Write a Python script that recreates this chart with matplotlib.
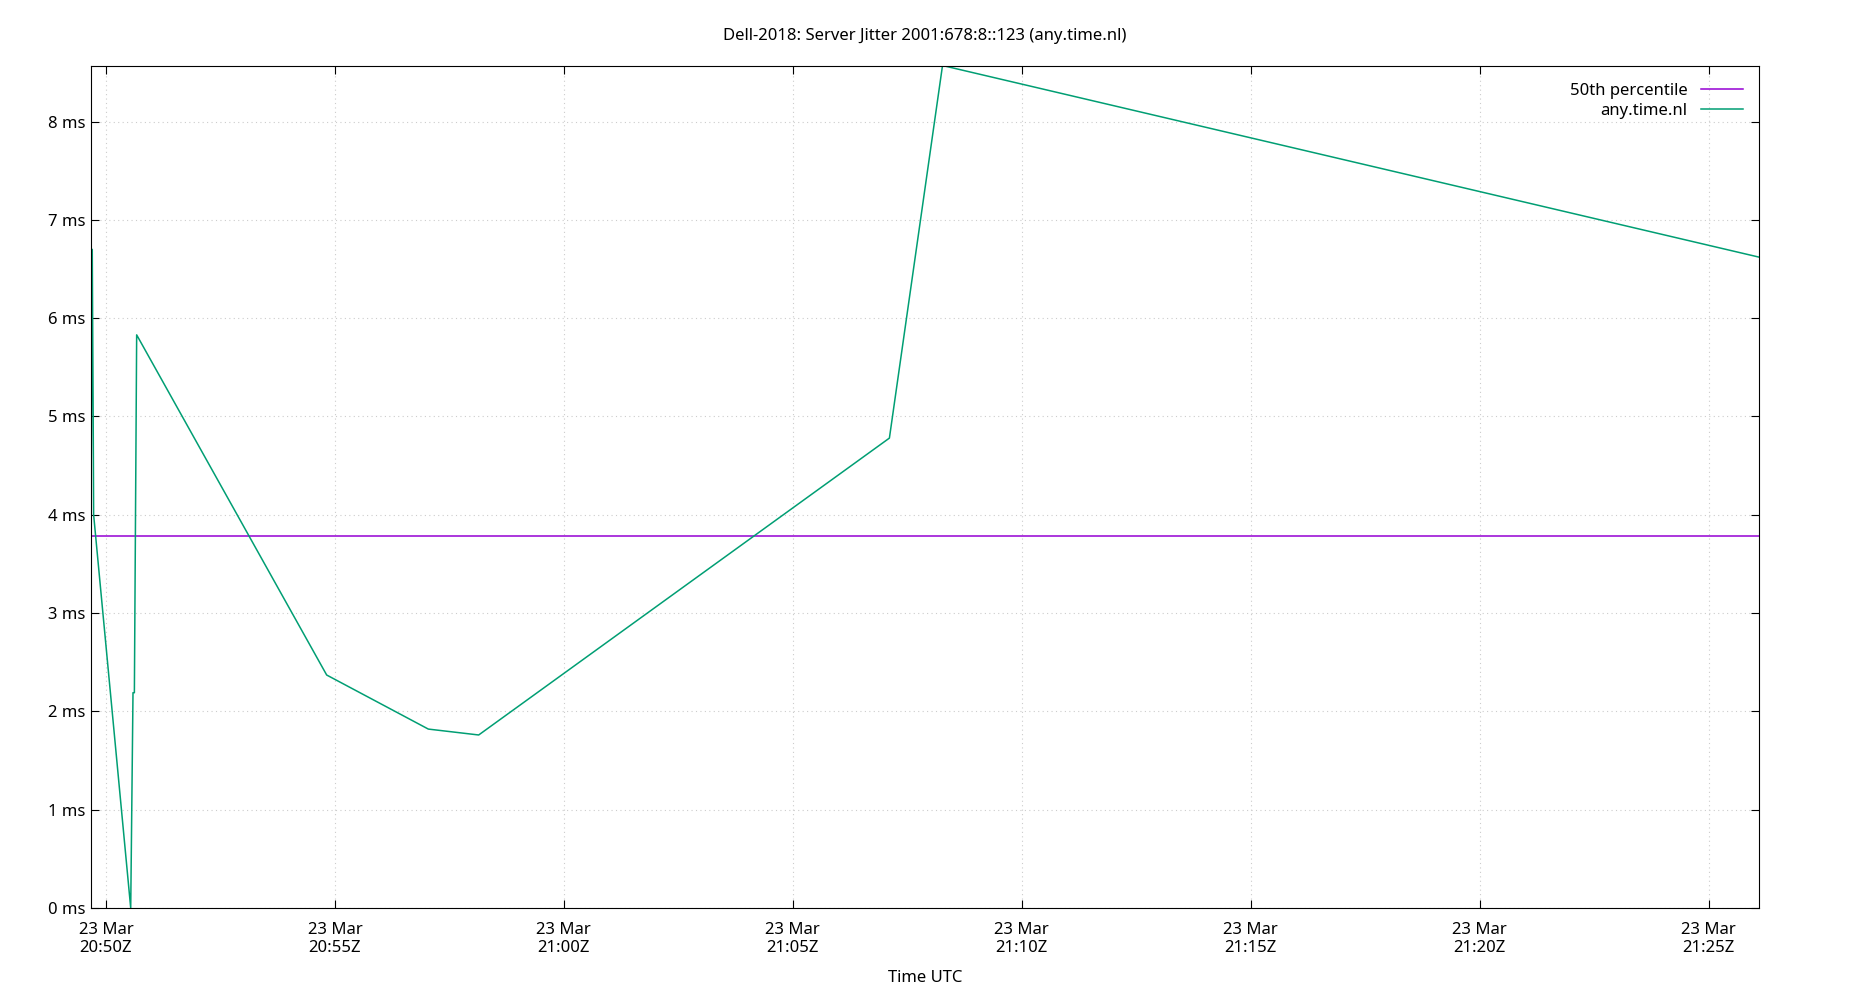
import matplotlib
matplotlib.use("Agg")
import matplotlib.pyplot as plt
import matplotlib.dates as mdates
import numpy as np
import datetime as dt

plt.rcParams['font.family'] = ['Noto Sans', 'DejaVu Sans']

base = dt.datetime(2018, 3, 23, 20, 50)
minutes = [-0.33, -0.30, -0.28, -0.27, 0.54, 0.59, 0.62, 0.67, 4.82, 7.04, 8.14, 17.11, 18.27, 36.11]
jitter_ms = [3.8, 6.7, 5.0, 4.0, 0.0, 2.19, 2.19, 5.83, 2.37, 1.82, 1.76, 4.78, 8.57, 6.62]
median_ms = 3.78
title = "Dell-2018: Server Jitter 2001:678:8::123 (any.time.nl)"

times = [base + dt.timedelta(minutes=m) for m in minutes]
xmin = base + dt.timedelta(minutes=-0.335)
xmax = base + dt.timedelta(minutes=36.11)

fig = plt.figure(figsize=(18.5, 10), dpi=100)
ax = fig.add_axes([0.049, 0.092, 0.902, 0.842])
ax.plot([xmin, xmax], [median_ms, median_ms], color='#9400d3', lw=1.1, label='50th percentile')
ax.plot(times, jitter_ms, color='#009e73', lw=1.1, label='any.time.nl')
ax.set_xlim(xmin, xmax)
ax.set_ylim(0, 8.565)
ax.set_yticks(range(0, 9))
ax.set_yticklabels([f"{i} ms" for i in range(9)])
ax.xaxis.set_major_locator(mdates.MinuteLocator(byminute=range(0, 60, 5)))
ax.xaxis.set_major_formatter(mdates.DateFormatter('%d %b\n%H:%MZ'))
ax.tick_params(direction='in', top=True, right=True, labelsize=12, length=6)
ax.tick_params(axis='x', pad=10)
ax.grid(True, color='#cccccc', linestyle=(0, (1, 3)), lw=0.8)
ax.set_xlabel('Time UTC', fontsize=12, labelpad=10)
ax.set_title(title, fontsize=12, pad=19)
ax.legend(loc='upper right', frameon=False, markerfirst=False, fontsize=12, handlelength=2.5,
          labelspacing=0.25, borderaxespad=0.6)
fig.savefig('out.png')
